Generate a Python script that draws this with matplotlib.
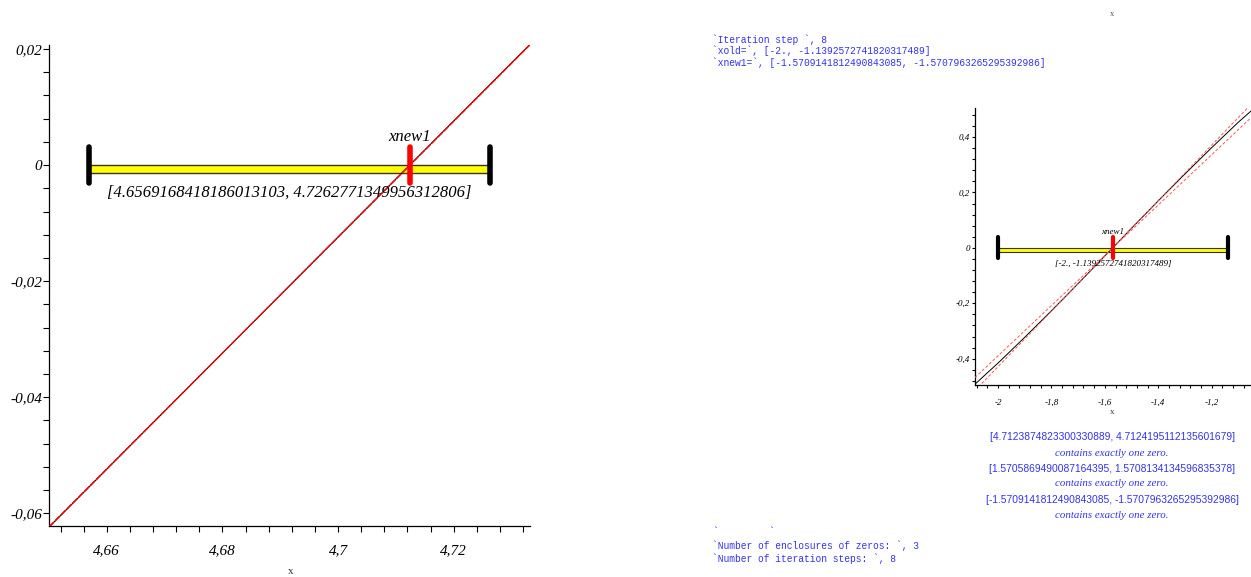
import matplotlib
matplotlib.use('Agg')
import matplotlib.pyplot as plt
import matplotlib.patches as patches
from matplotlib.ticker import MultipleLocator, FuncFormatter

W, H = 1251, 577

# left plot: enclosure [4.6569.., 4.7262..] around 3*pi/2
left_xlim = [4.6500, 4.7332]
left_ylim = [-0.0622, 0.0207]
left_curve_x = [4.6500, 4.6700, 4.6900, 4.7124, 4.7332]
left_curve_y = [-0.0624, -0.0424, -0.0224, 0.0000, 0.0208]
left_lines_x = [4.6500, 4.7332]
left_line1_y = [-0.0624, 0.0208]
left_line2_y = [-0.0623, 0.0207]
left_interval = [4.6569168418186013103, 4.7262771349956312806]
left_xnew = 4.7124
left_label = "[4.6569168418186013103, 4.7262771349956312806]"

# right plot: enclosure [-2, -1.139..] around -pi/2
right_xlim = [-2.086, -1.053]
right_ylim = [-0.495, 0.505]
right_curve_x = [-2.086, -2.0, -1.9, -1.8, -1.7, -1.6, -1.5708, -1.5, -1.4,
                 -1.3, -1.2, -1.1, -1.053]
right_curve_y = [-0.492, -0.416, -0.323, -0.227, -0.129, -0.029, 0.0, 0.071,
                 0.170, 0.267, 0.362, 0.454, 0.494]
right_lines_x = [-2.086, -1.053]
right_line1_y = [-0.515, 0.518]
right_line2_y = [-0.468, 0.470]
right_interval = [-2.0, -1.1392572741820317489]
right_xnew = -1.5709
right_label = "[-2., -1.1392572741820317489]"

top_lines = ["`Iteration step `, 8",
             "`xold=`, [-2., -1.1392572741820317489]",
             "`xnew1=`, [-1.5709141812490843085, -1.5707963265295392986]"]
bottom_lines = ["`Number of enclosures of zeros: `, 3",
                "`Number of iteration steps: `, 8"]
result_intervals = ["[4.7123874823300330889, 4.7124195112135601679]",
                    "[1.5705869490087164395, 1.5708134134596835378]",
                    "[-1.5709141812490843085, -1.5707963265295392986]"]
result_note = "contains exactly one zero."

blue = '#3333f0'


def fx(x):
    return x / W


def fy(y):
    return 1 - y / H


def comma_fmt(v, pos):
    s = '%.10g' % v
    if s in ('-0', '0'):
        return '0'
    return s.replace('.', ',')


def style_axes(ax, major, minor, fs, ticklen):
    for side in ['top', 'right']:
        ax.spines[side].set_visible(False)
    for side in ['left', 'bottom']:
        ax.spines[side].set_linewidth(0.9)
    ax.xaxis.set_major_locator(MultipleLocator(major))
    ax.xaxis.set_minor_locator(MultipleLocator(minor))
    ax.yaxis.set_major_locator(MultipleLocator(major))
    ax.yaxis.set_minor_locator(MultipleLocator(minor))
    ax.xaxis.set_major_formatter(FuncFormatter(comma_fmt))
    ax.yaxis.set_major_formatter(FuncFormatter(comma_fmt))
    ax.tick_params(which='both', direction='out', length=ticklen, width=0.8)
    ax.tick_params(axis='x', pad=ticklen + 5)
    ax.tick_params(axis='y', pad=1)
    for lab in ax.get_xticklabels() + ax.get_yticklabels():
        lab.set_fontfamily('Liberation Serif')
        lab.set_fontstyle('italic')
        lab.set_fontsize(fs)


def draw_interval(ax, interval, xnew, label, cap_lw, bar_lw, fs, gap):
    y0, y1 = ax.get_ylim()
    r = y1 - y0
    h = 0.0375 * r
    t = 0.016 * r
    lo, hi = interval
    ax.add_patch(patches.Rectangle((lo, -t), hi - lo, t, facecolor='yellow',
                                   edgecolor='#333333', linewidth=bar_lw, zorder=2))
    for xe in interval:
        ax.plot([xe, xe], [-h, h], color='black', lw=cap_lw,
                solid_capstyle='round', zorder=4)
    ax.plot([xnew, xnew], [-h, h], color='red', lw=cap_lw,
            solid_capstyle='round', zorder=5)
    ax.text(xnew, h + gap * r, 'xnew1', ha='center', va='bottom',
            family='Liberation Serif', style='italic', fontsize=fs, zorder=6)
    ax.text((lo + hi) / 2, -h - gap * r, label, ha='center', va='top',
            family='Liberation Serif', style='italic', fontsize=fs, zorder=6)


fig = plt.figure(figsize=(W / 100, H / 100), dpi=100)

# left plot
ax1 = fig.add_axes([fx(49), fy(526), fx(481), 481 / H])
ax1.plot(left_curve_x, left_curve_y, color='black', lw=0.8, zorder=3)
ax1.plot(left_lines_x, left_line1_y, color='red', lw=0.8, dashes=(6, 1.5), zorder=3)
ax1.plot(left_lines_x, left_line2_y, color='red', lw=0.8, dashes=(6, 1.5), zorder=3)
ax1.set_xlim(left_xlim)
ax1.set_ylim(left_ylim)
style_axes(ax1, 0.02, 0.004, 11, 4)
draw_interval(ax1, left_interval, left_xnew, left_label, 4, 1.0, 12, 0.004)
fig.text(fx(291), fy(572), 'x', ha='center', va='center', fontsize=8,
         family='Liberation Serif', color='#333333')

# right plot
ax2 = fig.add_axes([fx(975), fy(385), fx(276), 277 / H])
ax2.plot(right_curve_x, right_curve_y, color='black', lw=0.7, zorder=3)
ax2.plot(right_lines_x, right_line1_y, color='#ff5555', lw=0.7, dashes=(3, 2), zorder=3)
ax2.plot(right_lines_x, right_line2_y, color='#ff5555', lw=0.7, dashes=(3, 2), zorder=3)
ax2.set_xlim(right_xlim)
ax2.set_ylim(right_ylim)
style_axes(ax2, 0.2, 0.04, 6.5, 2.5)
draw_interval(ax2, right_interval, right_xnew, right_label, 3, 0.8, 6.5, 0.004)
fig.text(fx(1112), fy(412), 'x', ha='center', va='center', fontsize=6.5,
         family='Liberation Serif', color='#333333')
fig.text(fx(1112), fy(14), 'x', ha='center', va='center', fontsize=6,
         family='Liberation Serif', color='#555555')

# console text
for i, line in enumerate(top_lines):
    fig.text(fx(712), fy([40, 51, 63][i]), line, ha='left', va='center',
             family='Liberation Mono', fontsize=6.9, color=blue)
fig.text(fx(712), fy(532), '`', ha='left', va='center',
         family='Liberation Mono', fontsize=6.9, color=blue)
fig.text(fx(768), fy(532), '`', ha='left', va='center',
         family='Liberation Mono', fontsize=6.9, color=blue)
for i, line in enumerate(bottom_lines):
    fig.text(fx(712), fy([546, 559][i]), line, ha='left', va='center',
             family='Liberation Mono', fontsize=6.9, color=blue)

for i, iv in enumerate(result_intervals):
    fig.text(fx(1112), fy([437, 469, 500][i]), iv, ha='center', va='center',
             family='Liberation Sans', fontsize=7.4, color=blue)
    fig.text(fx(1112), fy([453, 484, 516][i]), result_note, ha='center', va='center',
             family='Liberation Serif', style='italic', fontsize=7.8, color=blue)

fig.savefig('out.png', dpi=100)
